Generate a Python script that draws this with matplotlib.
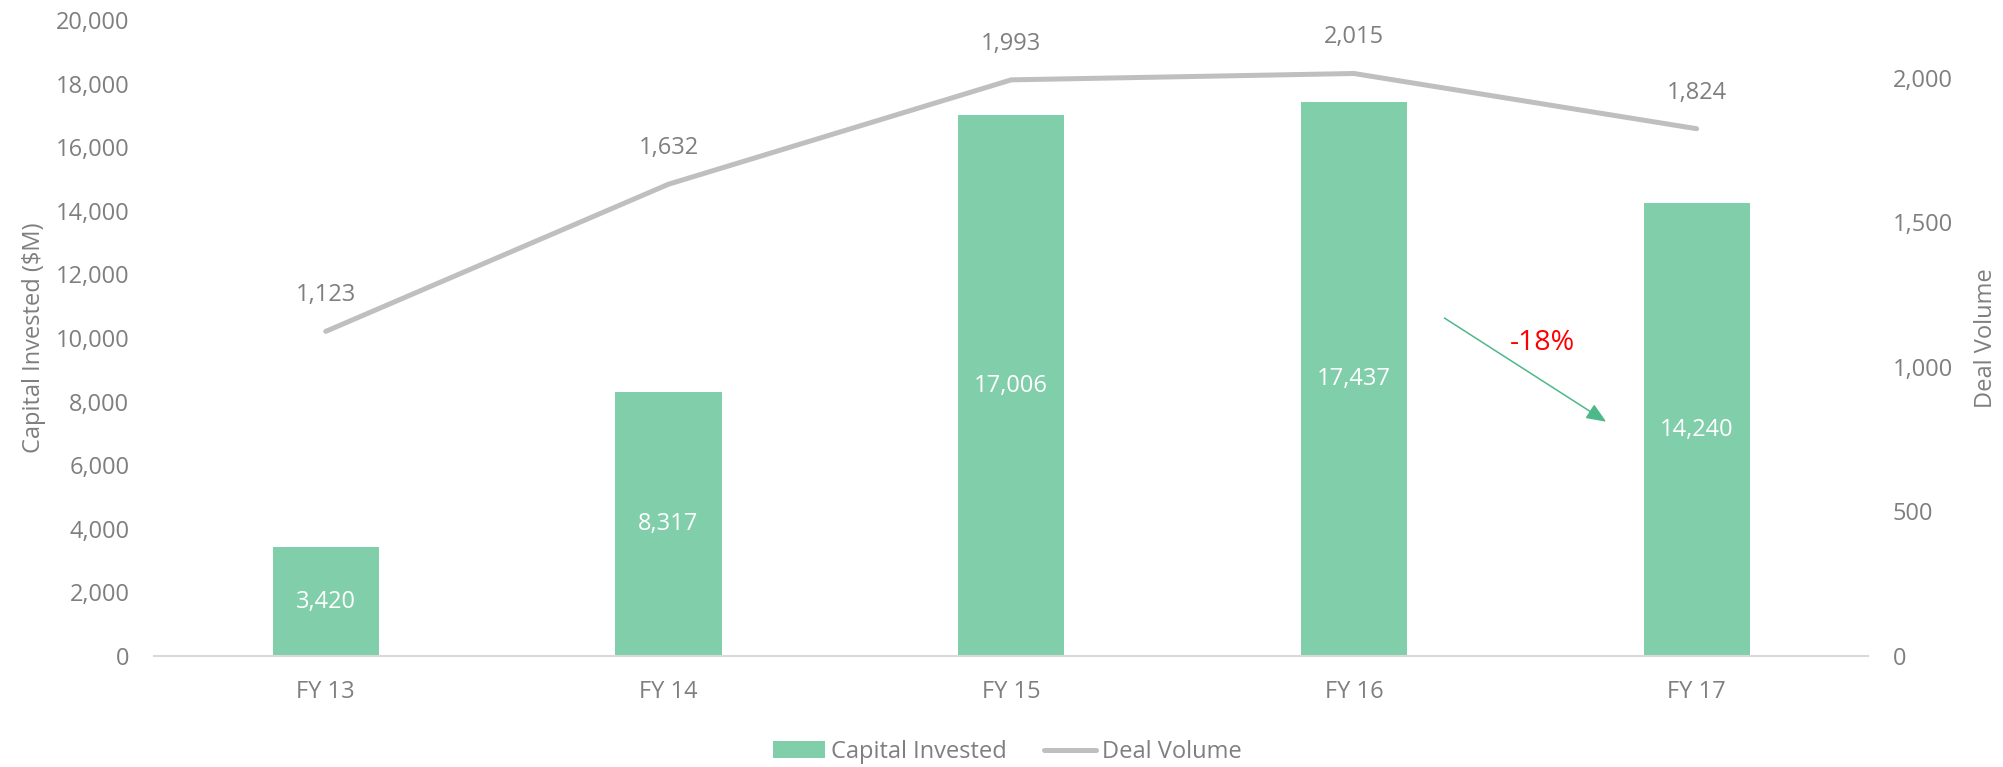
#!/usr/bin/env python3
"""
Capital invested (bars) vs deal volume (line), FY13-FY17.

Output: out.png
"""
import matplotlib
matplotlib.use('Agg')

import matplotlib.pyplot as plt
from matplotlib.ticker import FuncFormatter, MultipleLocator

# ======================== Data ========================
YEARS = ["FY 13", "FY 14", "FY 15", "FY 16", "FY 17"]
CAPITAL_INVESTED = [3420, 8317, 17006, 17437, 14240]   # $M, left axis
DEAL_VOLUME = [1123, 1632, 1993, 2015, 1824]           # count, right axis
CHANGE_LABEL = "-18%"

# ======================== Style ========================
BAR_COLOR = "#81CEAA"
LINE_COLOR = "#BFBFBF"
TEXT_GRAY = "#7F7F7F"
AXIS_LINE = "#D9D9D9"
ARROW_COLOR = "#4DB889"
FONT = "Open Sans"
FS = 17

plt.rcParams['font.family'] = [FONT, 'DejaVu Sans']


def thousands(v, _pos):
    return f"{int(v):,}"


fig = plt.figure(figsize=(20.03, 7.67), dpi=100)
ax = fig.add_axes([0.0771, 0.1447, 0.8555, 0.8292])
ax2 = ax.twinx()

x = list(range(len(YEARS)))

# Bars
bars = ax.bar(x, CAPITAL_INVESTED, width=0.31, color=BAR_COLOR,
              label="Capital Invested", zorder=2)
for xi, v in zip(x, CAPITAL_INVESTED):
    ax.text(xi, v / 2, f"{v:,}", ha='center', va='center',
            color='white', fontsize=FS)

# Line
line, = ax2.plot(x, DEAL_VOLUME, color=LINE_COLOR, lw=3.6,
                 solid_capstyle='round', solid_joinstyle='round',
                 label="Deal Volume", zorder=3)
for xi, v in zip(x, DEAL_VOLUME):
    ax2.annotate(f"{v:,}", (xi, v), xytext=(0, 26), textcoords='offset points',
                 ha='center', va='center', color=TEXT_GRAY, fontsize=FS)

# Axes limits and ticks
ax.set_xlim(-0.5, len(YEARS) - 0.5)
ax.set_ylim(0, 20000)
ax2.set_ylim(0, 2200)
ax.yaxis.set_major_locator(MultipleLocator(2000))
ax2.yaxis.set_major_locator(MultipleLocator(500))
ax.yaxis.set_major_formatter(FuncFormatter(thousands))
ax2.yaxis.set_major_formatter(FuncFormatter(thousands))
ax.set_xticks(x)
ax.set_xticklabels(YEARS)

for a in (ax, ax2):
    for side in ('top', 'left', 'right', 'bottom'):
        a.spines[side].set_visible(False)
    a.tick_params(length=0, labelsize=FS, labelcolor=TEXT_GRAY)
ax.spines['bottom'].set_visible(True)
ax.spines['bottom'].set_color(AXIS_LINE)
ax.spines['bottom'].set_linewidth(1.5)
ax.tick_params(axis='y', pad=18)
ax.tick_params(axis='x', pad=17)
ax2.tick_params(axis='y', pad=18)

ax.set_ylabel("Capital Invested ($M)", fontsize=FS, color=TEXT_GRAY, labelpad=7)
ax2.set_ylabel("Deal Volume", fontsize=FS, color=TEXT_GRAY, labelpad=15)

# Change annotation
ax.annotate("", xy=(3.736, 7368), xytext=(3.264, 10629),
            arrowprops=dict(arrowstyle='-|>,head_length=0.6,head_width=0.25',
                            color=ARROW_COLOR, lw=1.1, mutation_scale=20,
                            shrinkA=0, shrinkB=0))
ax.text(3.549, 9843, CHANGE_LABEL, color='red', fontsize=20.5,
        ha='center', va='center')

# Legend
fig.legend(handles=[bars, line], loc='center', bbox_to_anchor=(0.503, 0.0196),
           ncol=2, frameon=False, fontsize=FS, handlelength=2.2,
           handletextpad=0.25, columnspacing=1.57, labelcolor=TEXT_GRAY)

fig.savefig("out.png", dpi=100)
plt.close(fig)
